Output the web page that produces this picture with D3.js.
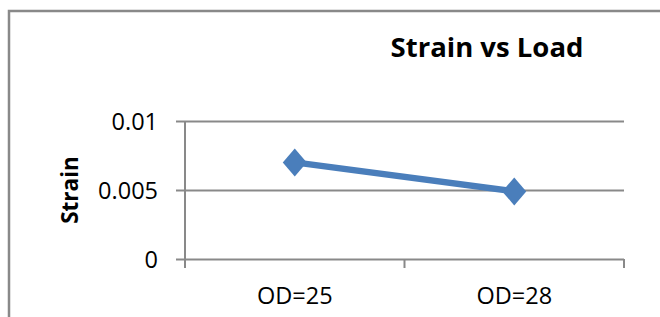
<!DOCTYPE html>
<html>
<head>
<meta charset="utf-8">
<script src="https://cdn.jsdelivr.net/npm/d3@7"></script>
<style>
  body { margin: 0; background: #fff; }
  svg { display: block; }
</style>
</head>
<body>
<div id="chart"></div>
<script>
// chart data
const categories = ['OD=25', 'OD=28'];
const strainValues = [0.007, 0.0049];
const yTicks = [0, 0.005, 0.01];
const yTickLabels = ['0', '0.005', '0.01'];

const W = 660, H = 317;
const plot = {left: 185, right: 624, top: 121, bottom: 259};
const blue = '#4a7ebb', grey = '#898989';
const font = "'Open Sans', 'Liberation Sans', sans-serif";

const svg = d3.select('#chart').append('svg')
  .attr('width', W).attr('height', H);

// outer chart border (runs off the right and bottom edges)
svg.append('rect')
  .attr('x', 9).attr('y', 11)
  .attr('width', W + 20).attr('height', H + 20)
  .attr('fill', 'none').attr('stroke', grey).attr('stroke-width', 2.5);

const x = d3.scaleBand().domain(categories).range([plot.left, plot.right]);
const y = d3.scaleLinear().domain([0, 0.01]).range([plot.bottom, plot.top]);

// horizontal gridlines + left tick stubs
const yAxis = d3.axisLeft(y).tickValues(yTicks)
  .tickSize(-(plot.right - plot.left))
  .tickFormat((d, i) => yTickLabels[i]);

const gy = svg.append('g').attr('transform', `translate(${plot.left},0)`).call(yAxis);
gy.select('.domain').remove();
gy.selectAll('.tick line')
  .attr('x1', -9)
  .attr('stroke', grey).attr('stroke-width', 2);
gy.selectAll('.tick text')
  .attr('x', -27).attr('dy', '0.36em')
  .attr('font-family', font).attr('font-size', 23.5).attr('fill', '#000');

// vertical axis line
svg.append('line')
  .attr('x1', plot.left).attr('x2', plot.left)
  .attr('y1', y(0.01)).attr('y2', plot.bottom + 9)
  .attr('stroke', grey).attr('stroke-width', 2);

// category axis: ticks on band edges
const xEdges = categories.map(c => x(c)).concat([plot.right]);
svg.append('g').selectAll('line')
  .data(xEdges)
  .join('line')
    .attr('x1', d => d).attr('x2', d => d)
    .attr('y1', plot.bottom).attr('y2', plot.bottom + 9)
    .attr('stroke', grey).attr('stroke-width', 2);

svg.append('g').selectAll('text')
  .data(categories)
  .join('text')
    .text(d => d)
    .attr('x', d => x(d) + x.bandwidth() / 2)
    .attr('y', 304)
    .attr('text-anchor', 'middle')
    .attr('font-family', font).attr('font-size', 23.5).attr('fill', '#000');

// series line
const line = d3.line()
  .x((d, i) => x(categories[i]) + x.bandwidth() / 2)
  .y(d => y(d));

svg.append('path')
  .datum(strainValues)
  .attr('d', line)
  .attr('fill', 'none').attr('stroke', blue).attr('stroke-width', 6.5);

// diamond markers
svg.append('g').selectAll('path')
  .data(strainValues)
  .join('path')
    .attr('transform', (d, i) => `translate(${x(categories[i]) + x.bandwidth() / 2},${y(d)})`)
    .attr('d', 'M0,-14L12,0L0,14L-12,0Z')
    .attr('fill', blue);

// title
svg.append('text')
  .text('Strain vs Load')
  .attr('x', 487).attr('y', 57)
  .attr('text-anchor', 'middle')
  .attr('font-family', font).attr('font-weight', 'bold').attr('font-size', 27.5)
  .attr('fill', '#000');

// y axis title
svg.append('text')
  .text('Strain')
  .attr('transform', 'translate(78,190) rotate(-90)')
  .attr('text-anchor', 'middle')
  .attr('font-family', font).attr('font-weight', 'bold').attr('font-size', 22.5)
  .attr('fill', '#000');
</script>
</body>
</html>
